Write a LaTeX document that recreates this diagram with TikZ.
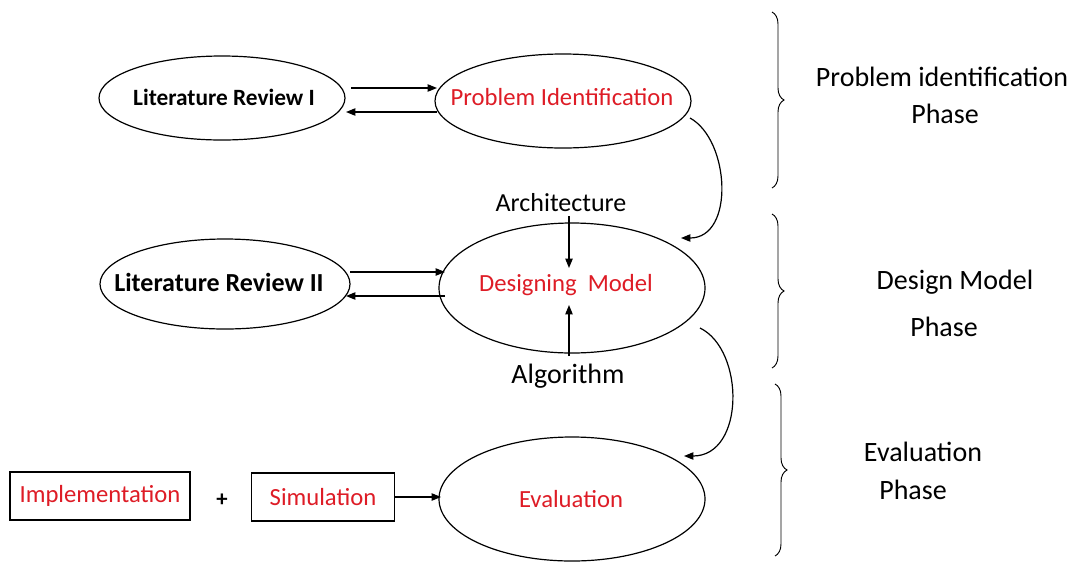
\documentclass[tikz,border=0pt]{standalone}
\usepackage{fontspec}
\setmainfont{Carlito}
\usetikzlibrary{arrows.meta,decorations.pathreplacing}
\definecolor{lblred}{RGB}{222,28,38}
\begin{document}
\begin{tikzpicture}[x=0.75pt,y=-0.75pt,
  every node/.style={inner sep=0pt,outer sep=0pt},
  boxed/.style={draw,rectangle,line width=0.9pt},
  redlbl/.style={text=lblred,font=\fontsize{18.5}{22}\selectfont},
  boldlbl/.style={font=\fontsize{17.5}{21}\selectfont\bfseries},
  phase/.style={font=\fontsize{21}{26}\selectfont},
  arr/.style={-{Triangle[length=7pt,width=5.5pt]},line width=0.9pt},
  oval/.style={line width=0.9pt},
  br/.style={decorate,decoration={brace,amplitude=9pt},line width=0.7pt}
]
\useasboundingbox (0,0) rectangle (1078,565);
\fill[white] (0,0) rectangle (1078,565);

% Phase 1: literature review and problem identification
\draw[oval] (222,98) ellipse [x radius=123, y radius=42];
\node[boldlbl] (lr1) at (224,97) {Literature Review I};
\draw[oval] (563,101) ellipse [x radius=128, y radius=47];
\node[redlbl] (pi) at (562,97) {Problem Identification};

% Phase 2: design of the model
\draw[oval] (225,284) ellipse [x radius=125, y radius=45];
\node[boldlbl,font=\fontsize{19.5}{23}\selectfont\bfseries] (lr2) at (219,282) {Literature Review II};
\draw[oval] (572,288) ellipse [x radius=133, y radius=65];
\node[redlbl] (dm) at (566,285) {Designing\ \ Model};
\node[font=\fontsize{19.5}{22}\selectfont] (arch) at (561,203) {Architecture};
\node[font=\fontsize{21}{24}\selectfont] (algo) at (568,376) {Algorithm};

% Phase 3: evaluation
\draw[oval] (572,499) ellipse [x radius=133, y radius=62];
\node[redlbl] (ev) at (571,499) {Evaluation};
\node[boxed,redlbl,minimum width=180*0.75pt,minimum height=48*0.75pt] (impl) at (100,496) {Implementation};
\node[font=\fontsize{17}{18}\selectfont\bfseries] (plus) at (222,500) {+};
\node[boxed,redlbl,minimum width=143*0.75pt,minimum height=48*0.75pt] (sim) at (323,497) {Simulation};

% connector end points on the ovals
\coordinate (a1s) at (351,88);  \coordinate (a1e) at (437,88);
\coordinate (a2s) at (437,112); \coordinate (a2e) at (346,112);
\coordinate (b1s) at (350,272); \coordinate (b1e) at (445,272);
\coordinate (b2s) at (445,296); \coordinate (b2e) at (346,296);
\coordinate (c1s) at (690,118); \coordinate (c1e) at (681,238);
\coordinate (c2s) at (700,328); \coordinate (c2e) at (684,456);
\coordinate (archout) at (569,216); \coordinate (archin) at (569,268);
\coordinate (algoout) at (569,356); \coordinate (algoin) at (569,305);
\coordinate (evin) at (441,497);

\draw[arr] (a1s) -- (a1e);
\draw[arr] (a2s) -- (a2e);
\draw[arr] (b1s) -- (b1e);
\draw[arr] (b2s) -- (b2e);
\draw[arr] (archout) -- (archin);
\draw[arr] (algoout) -- (algoin);
\draw[arr] (sim.east) -- (evin);
\draw[arr] (c1s) .. controls (730,140) and (735,238) .. (c1e);
\draw[arr] (c2s) .. controls (745,350) and (745,456) .. (c2e);

% phase braces and captions
\draw[br] (772,12) -- (772,188);
\draw[br] (772,214) -- (772,368);
\draw[br] (775,384) -- (775,556);
\node[phase] (ph1a) at (942,77) {Problem identification};
\node[phase] (ph1b) at (945,114) {Phase};
\node[phase] (ph2a) at (955,282) {Design Model};
\node[phase] (ph2b) at (944,327) {Phase};
\node[phase] (ph3a) at (923,452) {Evaluation};
\node[phase] (ph3b) at (913,490) {Phase};
\end{tikzpicture}
\end{document}
